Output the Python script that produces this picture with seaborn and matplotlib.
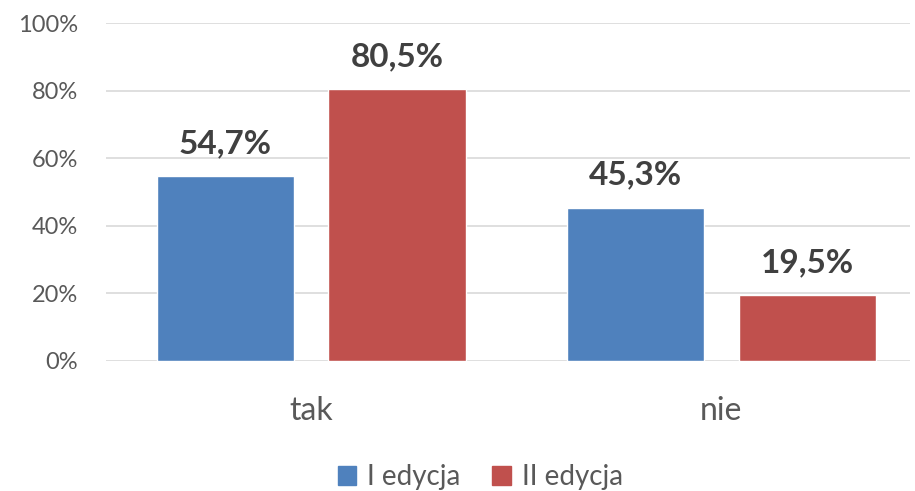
import matplotlib
matplotlib.use("Agg")
import matplotlib.pyplot as plt
import seaborn as sns
import pandas as pd
from matplotlib.ticker import PercentFormatter

categories = ['tak', 'nie']
series = ['I edycja', 'II edycja']
values_1 = [54.7, 45.3]
values_2 = [80.5, 19.5]

palette = {'I edycja': '#4F81BD', 'II edycja': '#C0504D'}

rows = [[c, series[0], v] for c, v in zip(categories, values_1)] + \
       [[c, series[1], v] for c, v in zip(categories, values_2)]
df = pd.DataFrame(rows, columns=['Odp', 'Edycja', 'Procent'])

sns.set_style('white')
plt.rcParams['font.family'] = ['Lato', 'DejaVu Sans']

fig = plt.figure(figsize=(9.15, 4.91), dpi=100)
ax = fig.add_axes([0.116, 0.265, 0.879, 0.688])

sns.barplot(data=df, x='Odp', y='Procent', hue='Edycja', palette=palette,
            width=0.837, gap=0.2, saturation=1, ax=ax, zorder=3)

ax.set_ylim(0, 100)
ax.set_xlim(-0.5, 1.461)
ax.set_yticks(range(0, 101, 20))
ax.yaxis.set_major_formatter(PercentFormatter(decimals=0))
ax.yaxis.grid(True, color='#D9D9D9', linewidth=1.2, zorder=0)
ax.set_xlabel('')
ax.set_ylabel('')
for s in ax.spines.values():
    s.set_visible(False)
ax.tick_params(axis='y', labelsize=17, labelcolor='#595959', length=0, pad=20)
ax.tick_params(axis='x', labelsize=23, labelcolor='#595959', length=0, pad=25)

for container in ax.containers:
    labels = [f"{v:.1f}%".replace('.', ',') for v in container.datavalues]
    ax.bar_label(container, labels=labels, padding=13, fontsize=24,
                 fontweight='bold', color='#404040')

ax.legend_.remove()
handles = [plt.Rectangle((0, 0), 1, 1, color=palette[s]) for s in series]
fig.legend(handles, series, loc='center', bbox_to_anchor=(0.525, 0.028), ncol=2,
           frameon=False, fontsize=20, handlelength=0.65, handleheight=0.65,
           columnspacing=1.15, handletextpad=0.4, labelcolor='#595959')

fig.savefig('out.png', dpi=100)
